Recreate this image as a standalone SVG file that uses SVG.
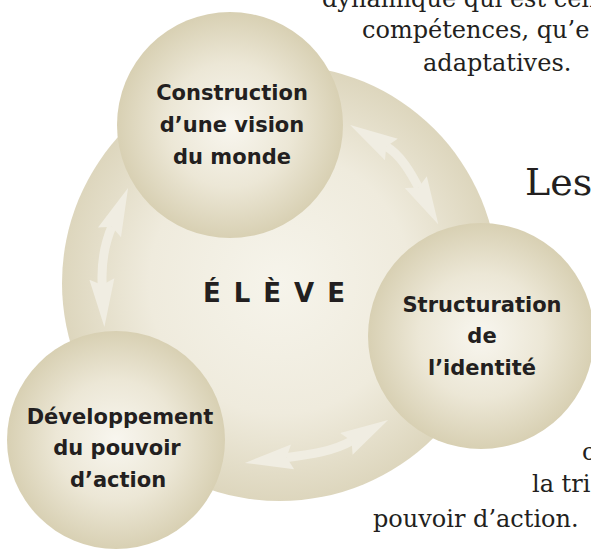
<svg xmlns="http://www.w3.org/2000/svg" width="591" height="552" viewBox="0 0 591 552">
<defs>
<radialGradient id="gBig" cx="50%" cy="50%" r="50%">
<stop offset="0" stop-color="#f6f4eb"/>
<stop offset="0.6" stop-color="#efebdd"/>
<stop offset="1" stop-color="#ddd6bd"/>
</radialGradient>
<radialGradient id="gSmall" cx="50%" cy="50%" r="50%">
<stop offset="0" stop-color="#f8f6ef"/>
<stop offset="0.55" stop-color="#ece7d6"/>
<stop offset="1" stop-color="#d8d0b3"/>
</radialGradient>
<marker id="head" viewBox="0 -13 48 26" refX="6" refY="0" markerWidth="48" markerHeight="26" markerUnits="userSpaceOnUse" orient="auto-start-reverse">
<path d="M48,0 L0,-12.5 L6,0 L0,12.5 z" fill="#f0ede2"/>
</marker>
</defs>
<style>
.lbl{font-family:"DejaVu Sans","Verdana",sans-serif;font-weight:bold;font-size:21px;fill:#231f20;text-anchor:middle}
.body{font-family:"DejaVu Serif","Liberation Serif",serif;font-size:24px;fill:#231f20}
.arr{fill:none;stroke:#f0ede2;stroke-width:9;marker-start:url(#head);marker-end:url(#head)}
</style>
<g id="body-text">
<text class="body" x="322" y="7">dynamique qui est cen</text>
<text class="body" x="362" y="38">compétences, qu’e</text>
<text class="body" x="423" y="71">adaptatives.</text>
<text class="body" x="525" y="195" style="font-size:38px">Les</text>
<text class="body" x="582" y="460">c</text>
<text class="body" x="532" y="492">la tri</text>
<text class="body" x="373" y="527">pouvoir d’action.</text>
</g>
<g id="eleve">
<circle cx="280" cy="283" r="218" fill="url(#gBig)"/>
<text x="203" y="302" style="font-family:'DejaVu Sans',Verdana,sans-serif;font-weight:bold;font-size:26px;letter-spacing:13px;fill:#231f20">ÉLÈVE</text>
</g>
<g id="construction">
<circle cx="230" cy="125" r="113" fill="url(#gSmall)"/>
<text class="lbl" x="232" y="100">Construction</text>
<text class="lbl" x="232" y="132">d’une vision</text>
<text class="lbl" x="232" y="164">du monde</text>
</g>
<g id="structuration">
<circle cx="481" cy="336" r="113" fill="url(#gSmall)"/>
<text class="lbl" x="482" y="312">Structuration</text>
<text class="lbl" x="482" y="343">de</text>
<text class="lbl" x="482" y="375">l’identité</text>
</g>
<g id="developpement">
<circle cx="116" cy="440" r="109" fill="url(#gSmall)"/>
<text class="lbl" x="120" y="424">Développement</text>
<text class="lbl" x="117" y="455">du pouvoir</text>
<text class="lbl" x="118" y="487">d’action</text>
</g>
<g id="connectors">
<path class="arr" d="M111.8,226.8 C105,243 101,262 102.2,285"/>
<path class="arr" d="M386.2,146.4 C400.8,155.1 410.6,172.5 418.6,187.5"/>
<path class="arr" d="M286.6,457.6 C308.4,454.8 332.5,451.8 351.6,440.9"/>
</g>
</svg>
